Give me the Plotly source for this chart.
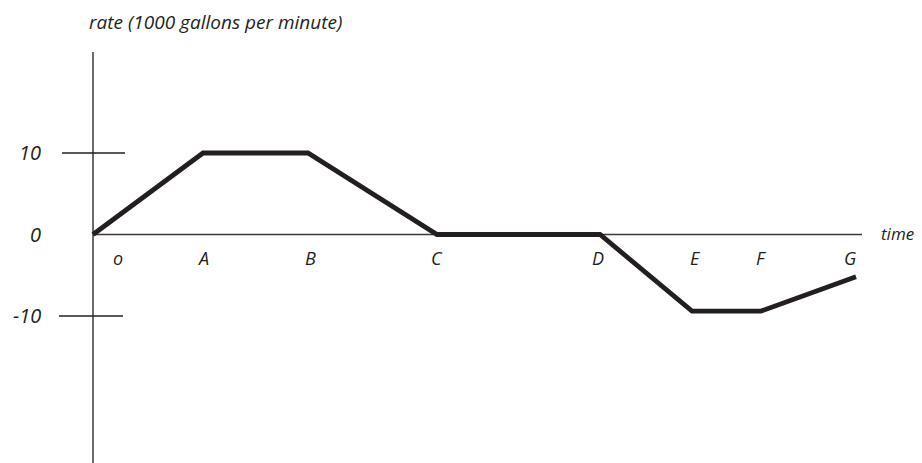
import plotly.graph_objects as go

# rate curve (time in arbitrary units, rate in 1000 gal/min)
times = [0, 11, 21.5, 34.4, 50.7, 59.9, 66.8, 76.3]
rates = [0, 10, 10, 0, 0, -9.4, -9.4, -5.2]

point_labels = ["o", "A", "B", "C", "D", "E", "F", "G"]
label_times = [2.5, 11, 21.7, 34.4, 50.5, 60.2, 66.8, 75.7]

y_ticks = [10, 0, -10]
y_tick_text = ["10", "0", "-10"]

INK = "#231f20"
AXIS = "#3a3a3a"
FONT = "Open Sans"

fig = go.Figure()

# axes drawn as plain lines in data space
fig.add_trace(go.Scatter(x=[0, 0], y=[22.4, -28.1], mode="lines",
                         line=dict(color=AXIS, width=1.5), hoverinfo="skip"))
fig.add_trace(go.Scatter(x=[0, 76.9], y=[0, 0], mode="lines",
                         line=dict(color=AXIS, width=1.5), hoverinfo="skip"))
for y, (x0, x1) in zip([10, -10], [(-3.1, 3.2), (-3.4, 3.0)]):
    fig.add_trace(go.Scatter(x=[x0, x1], y=[y, y], mode="lines",
                             line=dict(color=INK, width=1.5), hoverinfo="skip"))

fig.add_trace(go.Scatter(x=times, y=rates, mode="lines",
                         line=dict(color=INK, width=4.8)))

annotations = []
for y, t in zip(y_ticks, y_tick_text):
    annotations.append(dict(x=-5.0, y=y, text=t, xanchor="right", yanchor="middle",
                            showarrow=False,
                            font=dict(family=FONT, size=20, color=INK, style="italic")))
for t, lab in zip(label_times, point_labels):
    annotations.append(dict(x=t, y=-2.85, text=lab, xanchor="center", yanchor="middle",
                            showarrow=False,
                            font=dict(family=FONT, size=18, color=INK, style="italic")))
annotations.append(dict(x=78.6, y=0.1, text="time", xanchor="left", yanchor="middle",
                        showarrow=False,
                        font=dict(family=FONT, size=17, color=INK, style="italic")))
# anchored to the top edge so the text box stays inside the figure
annotations.append(dict(x=-0.5, y=1, yref="paper", text="rate (1000 gallons per minute)",
                        xanchor="left", yanchor="top", showarrow=False, borderpad=0,
                        font=dict(family=FONT, size=19, color=INK, style="italic")))

# the page body keeps its default 8px margin, so the figure is 8px smaller
# than the window and the ranges start 8px in
fig.update_xaxes(visible=False, range=[-8.5, 82.9], fixedrange=True)
fig.update_yaxes(visible=False, range=[-28.04, 27.79], fixedrange=True)
fig.update_layout(
    width=914, height=455, margin=dict(l=0, r=0, t=0, b=0),
    plot_bgcolor="white", paper_bgcolor="white",
    showlegend=False, annotations=annotations,
)

fig.write_html("out.html")
